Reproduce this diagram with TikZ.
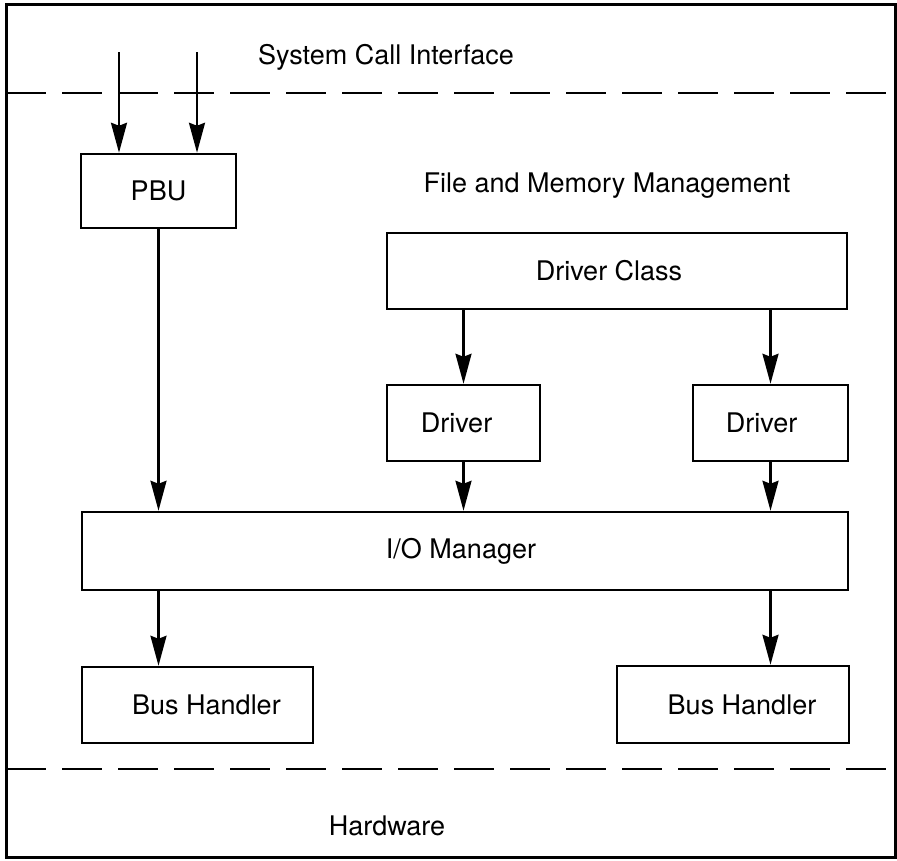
\documentclass[tikz,border=0pt]{standalone}
\usepackage{fontspec}
\setmainfont{TeX Gyre Heros}
\usetikzlibrary{arrows.meta}
\begin{document}
\begin{tikzpicture}[x=1pt,y=-1pt,
  every node/.style={font=\fontsize{27}{31}\selectfont},
  blk/.style={draw, line width=2.5pt, rectangle, inner sep=0pt},
  arr/.style={line width=2.4pt, -{Stealth[length=30pt,width=16pt,inset=3pt]}},
  layer/.style={line width=2.5pt, dash pattern=on 40pt off 16pt},
  caption/.style={inner sep=0pt}]
\useasboundingbox (0,0) rectangle (897,860);

% outer frame and layer boundaries
\draw[line width=3pt] (6,4) rectangle (895,857);
\draw[layer] (6,93) -- (895,93);
\draw[layer] (6,769) -- (895,769);

% layer captions
\node[caption] (sci) at (386,57) {System Call Interface};
\node[caption] (fmm) at (607,186) {File and Memory Management};
\node[caption] (hw) at (387,826) {Hardware};

% blocks
\node[blk, minimum width=155pt, minimum height=74pt] (pbu) at (158.5,191) {PBU};
\node[blk, minimum width=460pt, minimum height=76pt] (dc) at (617,271) {Driver Class\hspace*{16pt}};
\node[blk, minimum width=153pt, minimum height=76pt] (d1) at (463.5,423) {Driver\hspace*{14pt}};
\node[blk, minimum width=155pt, minimum height=76pt] (d2) at (770.5,423) {Driver\hspace*{18pt}};
\node[blk, minimum width=766pt, minimum height=78pt] (io) at (465,551) {I/O Manager\hspace*{8pt}};
\node[blk, minimum width=231pt, minimum height=76pt] (bh1) at (197.5,705) {\hspace*{18pt}Bus Handler};
\node[blk, minimum width=232pt, minimum height=77pt] (bh2) at (733,704.5) {\hspace*{18pt}Bus Handler};

% system call entries
\coordinate (in1) at (119,52);
\coordinate (in2) at (197,52);
\draw[arr] (in1) -- (in1 |- pbu.north);
\draw[arr] (in2) -- (in2 |- pbu.north);

% connectors
\draw[arr] (pbu.south) -- (pbu.south |- io.north);
\draw[arr] (dc.south -| d1.north) -- (d1.north);
\draw[arr] (dc.south -| d2.north) -- (d2.north);
\draw[arr] (d1.south) -- (d1.south |- io.north);
\draw[arr] (d2.south) -- (d2.south |- io.north);
\draw[arr] (io.south -| pbu.south) -- (bh1.north -| pbu.south);
\draw[arr] (io.south -| d2.south) -- (bh2.north -| d2.south);
\end{tikzpicture}
\end{document}
